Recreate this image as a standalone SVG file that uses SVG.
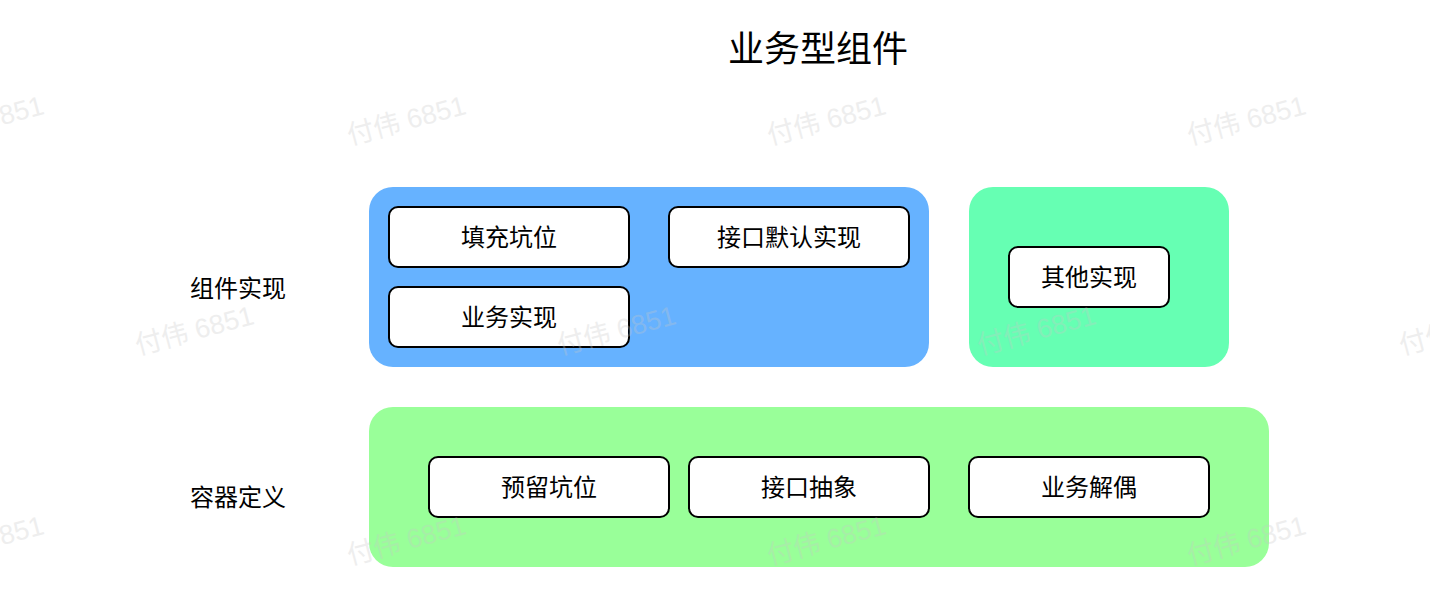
<svg xmlns="http://www.w3.org/2000/svg" width="1430" height="602" viewBox="0 0 1430 602">
  <style>
    .wm { font-family: "Liberation Sans", "Noto Sans CJK SC", sans-serif; font-size: 27px; fill: #c8c8c8; opacity: 0.3; }
    .title { font-family: "Noto Sans CJK SC", sans-serif; font-size: 36px; fill: #000; text-anchor: middle; dominant-baseline: central; }
    .lbl { font-family: "Noto Sans CJK SC", sans-serif; font-size: 24px; fill: #000; text-anchor: middle; dominant-baseline: central; }
    .box { fill: #ffffff; stroke: #000000; stroke-width: 2; }
  </style>
  <rect x="0" y="0" width="1430" height="602" fill="#ffffff"/>

  <text class="title" x="818" y="46">业务型组件</text>

  <g id="label-impl"><text class="lbl" x="238" y="286">组件实现</text></g>
  <g id="label-container"><text class="lbl" x="238" y="495">容器定义</text></g>

  <g id="group-impl">
    <rect x="369" y="187" width="560" height="180" rx="24" ry="24" fill="#66b2ff"/>
  </g>
  <g id="group-other">
    <rect x="969" y="187" width="260" height="180" rx="24" ry="24" fill="#66ffb3"/>
  </g>
  <g id="group-container">
    <rect x="369" y="407" width="900" height="160" rx="24" ry="24" fill="#99ff99"/>
  </g>

  <g id="node-fill-slot">
    <rect class="box" x="389" y="207" width="240" height="60" rx="9" ry="9"/>
    <text class="lbl" x="509" y="235">填充坑位</text>
  </g>
  <g id="node-default-impl">
    <rect class="box" x="669" y="207" width="240" height="60" rx="9" ry="9"/>
    <text class="lbl" x="789" y="235">接口默认实现</text>
  </g>
  <g id="node-biz-impl">
    <rect class="box" x="389" y="287" width="240" height="60" rx="9" ry="9"/>
    <text class="lbl" x="509" y="315">业务实现</text>
  </g>
  <g id="node-other-impl">
    <rect class="box" x="1009" y="247" width="160" height="60" rx="9" ry="9"/>
    <text class="lbl" x="1089" y="275">其他实现</text>
  </g>
  <g id="node-reserve-slot">
    <rect class="box" x="429" y="457" width="240" height="60" rx="9" ry="9"/>
    <text class="lbl" x="549" y="485">预留坑位</text>
  </g>
  <g id="node-interface">
    <rect class="box" x="689" y="457" width="240" height="60" rx="9" ry="9"/>
    <text class="lbl" x="809" y="485">接口抽象</text>
  </g>
  <g id="node-decouple">
    <rect class="box" x="969" y="457" width="240" height="60" rx="9" ry="9"/>
    <text class="lbl" x="1089" y="485">业务解偶</text>
  </g>

  <g id="connectors"></g>

  <g id="watermarks">
    <text class="wm" x="-72" y="145" transform="rotate(-15 -72 145)">付伟 6851</text>
    <text class="wm" x="350" y="145" transform="rotate(-15 350 145)">付伟 6851</text>
    <text class="wm" x="770" y="145" transform="rotate(-15 770 145)">付伟 6851</text>
    <text class="wm" x="1190" y="145" transform="rotate(-15 1190 145)">付伟 6851</text>
    <text class="wm" x="138" y="355" transform="rotate(-15 138 355)">付伟 6851</text>
    <text class="wm" x="560" y="355" transform="rotate(-15 560 355)">付伟 6851</text>
    <text class="wm" x="980" y="355" transform="rotate(-15 980 355)">付伟 6851</text>
    <text class="wm" x="1402" y="355" transform="rotate(-15 1402 355)">付伟 6851</text>
    <text class="wm" x="-72" y="565" transform="rotate(-15 -72 565)">付伟 6851</text>
    <text class="wm" x="350" y="565" transform="rotate(-15 350 565)">付伟 6851</text>
    <text class="wm" x="770" y="565" transform="rotate(-15 770 565)">付伟 6851</text>
    <text class="wm" x="1190" y="565" transform="rotate(-15 1190 565)">付伟 6851</text>
  </g>
</svg>
